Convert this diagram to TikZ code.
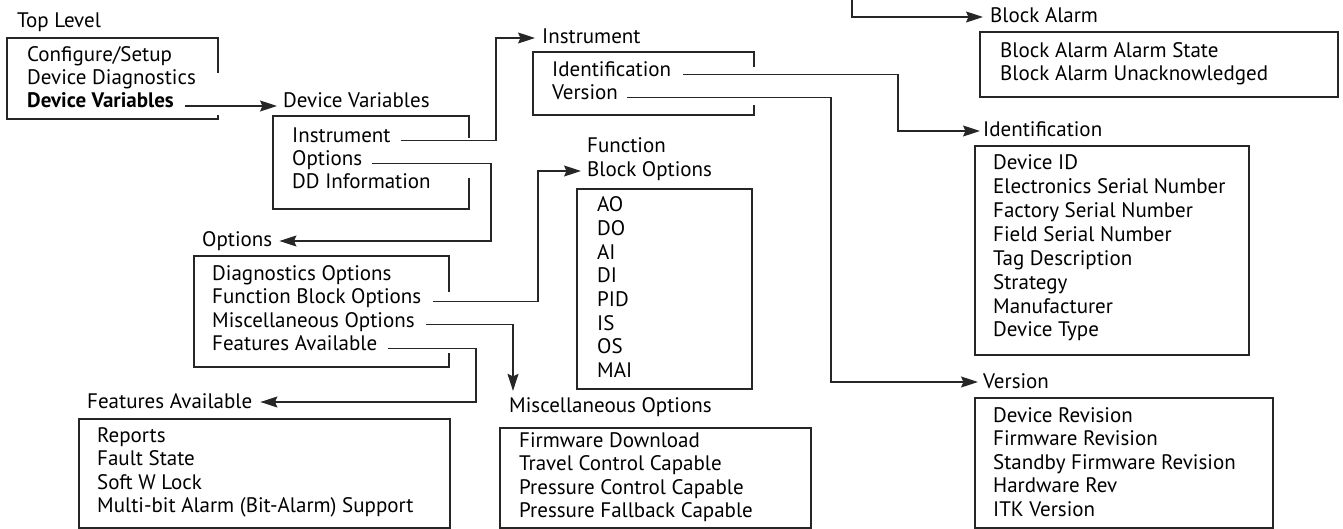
\documentclass[tikz,border=0pt]{standalone}
\usepackage{fontspec}
\setmainfont{PT Sans}
\usetikzlibrary{arrows.meta}

\tikzset{
  item/.style={anchor=base west, inner sep=0pt},
  title/.style={anchor=base west, inner sep=0pt},
  boxline/.style={line width=1.1pt, draw=black!85},
  conn/.style={line width=1.1pt, draw=black!85, -{Stealth[length=17pt,width=11pt,inset=2.5pt]}},
}
% plain box, and box with an opening in its right side
\newcommand{\menubox}[4]{\draw[boxline] (#1,#2) rectangle (#3,#4);}
\newcommand{\gapbox}[6]{\draw[boxline] (#3,#5) -- (#3,#2) -- (#1,#2) -- (#1,#4) -- (#3,#4) -- (#3,#6);}

\begin{document}
\begin{tikzpicture}[x=1pt, y=-1pt, font=\fontsize{21}{23.5}\selectfont]
  \useasboundingbox (0,0) rectangle (1343,529);

  % top level
  \node[title] (tlt) at (17,28) {Top Level};
  \foreach \t [count=\i] in {Configure/Setup, Device Diagnostics, {\textbf{Device Variables}}}
    \node[item] (tl\i) at (27,{62+23*(\i-1)}) {\t};
  \gapbox{7}{38}{218}{119}{73}{115}

  % device variables
  \node[title] (dvt) at (283,108) {Device Variables};
  \foreach \t [count=\i] in {Instrument, Options, DD Information}
    \node[item] (dv\i) at (292,{143+23*(\i-1)}) {\t};
  \gapbox{273}{116}{469}{209}{138}{178}

  % instrument
  \node[title] (inst) at (542,44) {Instrument};
  \foreach \t [count=\i] in {Identification, Version}
    \node[item] (ins\i) at (552,{77+23*(\i-1)}) {\t};
  \gapbox{533}{52}{754}{115}{67}{105}

  % block alarm
  \node[title] (bat) at (990,23) {Block Alarm};
  \foreach \t [count=\i] in {Block Alarm Alarm State, Block Alarm Unacknowledged}
    \node[item] (ba\i) at (1000,{58+23*(\i-1)}) {\t};
  \menubox{980}{32}{1338}{97}

  % identification
  \node[title] (idt) at (983,137) {Identification};
  \foreach \t [count=\i] in {Device ID, Electronics Serial Number, Factory Serial Number,
      Field Serial Number, Tag Description, Strategy, Manufacturer, Device Type}
    \node[item] (id\i) at (993,{170+23.85*(\i-1)}) {\t};
  \menubox{975}{146}{1249}{355}

  % version
  \node[title] (vert) at (983,388) {Version};
  \foreach \t [count=\i] in {Device Revision, Firmware Revision, Standby Firmware Revision,
      Hardware Rev, ITK Version}
    \node[item] (ver\i) at (993,{422+23.5*(\i-1)}) {\t};
  \menubox{975}{398}{1273}{528}

  % options
  \node[title] (optt) at (202,247) {Options};
  \foreach \t [count=\i] in {Diagnostics Options, Function Block Options,
      Miscellaneous Options, Features Available}
    \node[item] (opt\i) at (212,{280+23.6*(\i-1)}) {\t};
  \gapbox{194}{256}{449}{367}{292}{353}

  % features available
  \node[title] (featt) at (87,408) {Features Available};
  \foreach \t [count=\i] in {Reports, Fault State, Soft W Lock, Multi-bit Alarm (Bit-Alarm) Support}
    \node[item] (feat\i) at (97,{442+23.6*(\i-1)}) {\t};
  \menubox{79}{419}{450}{528}

  % function block options
  \node[title] (fbt1) at (587,153) {Function};
  \node[title] (fbt2) at (587,177) {Block Options};
  \foreach \t [count=\i] in {AO, DO, AI, DI, PID, IS, OS, MAI}
    \node[item] (fb\i) at (597,{212+23.6*(\i-1)}) {\t};
  \menubox{577}{189}{752}{389}

  % miscellaneous options
  \node[title] (misct) at (509,412) {Miscellaneous Options};
  \foreach \t [count=\i] in {Firmware Download, Travel Control Capable,
      Pressure Control Capable, Pressure Fallback Capable}
    \node[item] (misc\i) at (519,{447+23.5*(\i-1)}) {\t};
  \menubox{500}{428}{811}{528}

  % columns of the vertical runs
  \coordinate (instcol) at (496,0);
  \coordinate (optcol) at (491,0);
  \coordinate (idcol) at (898,0);
  \coordinate (vercol) at (831,0);
  \coordinate (fbcol) at (538,0);
  \coordinate (featcol) at (476,0);
  \coordinate (bafrom) at (852,0);

  % line starts
  \coordinate (tl3o) at ([xshift=11pt,yshift=2pt]tl3.base east);
  \coordinate (dv1o) at ([xshift=10pt,yshift=2.5pt]dv1.base east);
  \coordinate (dv2o) at ([xshift=10pt,yshift=2.5pt]dv2.base east);
  \coordinate (ins1o) at ([xshift=12pt,yshift=2.5pt]ins1.base east);
  \coordinate (ins2o) at ([xshift=9pt,yshift=2.5pt]ins2.base east);
  \coordinate (opt2o) at ([xshift=12pt,yshift=2.5pt]opt2.base east);
  \coordinate (opt3o) at ([xshift=11pt,yshift=2.5pt]opt3.base east);
  \coordinate (opt4o) at ([xshift=11pt,yshift=2.5pt]opt4.base east);

  \draw[conn] (tl3o) -- ([xshift=-6pt,yshift=2pt]dvt.base west);
  \draw[conn] (dv1o) -- (dv1o -| instcol) |- ([xshift=-7pt,yshift=6pt]inst.base west);
  \draw[conn] (dv2o) -- (dv2o -| optcol) |- ([xshift=7pt,yshift=6pt]optt.base east);
  \draw[conn] (ins1o) -- (ins1o -| idcol) |- ([xshift=-3pt,yshift=6pt]idt.base west);
  \draw[conn] (ins2o) -- (ins2o -| vercol) |- ([xshift=-5pt,yshift=6pt]vert.base west);
  \draw[conn] (bafrom) |- ([xshift=-7pt,yshift=6pt]bat.base west);
  \draw[conn] (opt2o) -- (opt2o -| fbcol) |- ([xshift=-6pt,yshift=6pt]fbt2.base west);
  \draw[conn] (opt3o) -| ([xshift=4pt,yshift=6pt]misct.north west);
  \draw[conn] (opt4o) -- (opt4o -| featcol) |- ([xshift=8pt,yshift=6pt]featt.base east);
\end{tikzpicture}
\end{document}
